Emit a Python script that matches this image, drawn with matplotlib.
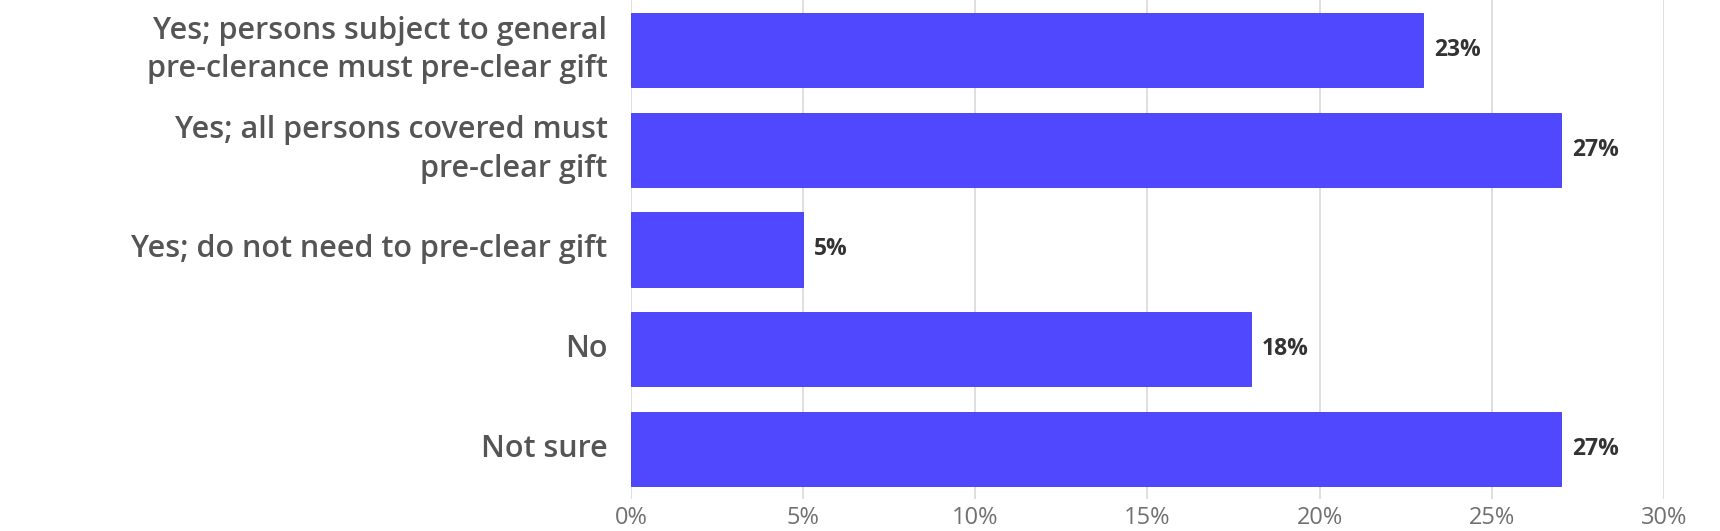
import matplotlib
matplotlib.use("Agg")
import matplotlib.pyplot as plt

categories = [
    "Yes; persons subject to general\npre-clerance must pre-clear gift",
    "Yes; all persons covered must\npre-clear gift",
    "Yes; do not need to pre-clear gift",
    "No",
    "Not sure",
]
values = [23, 27, 5, 18, 27]
xticks = [0, 5, 10, 15, 20, 25, 30]

plt.rcParams['font.family'] = ['Open Sans', 'DejaVu Sans']

fig = plt.figure(figsize=(17.2, 5.31), dpi=100)
ax = fig.add_axes([0.3669, 0.0603, 0.6005, 0.9397])

y = list(range(len(categories)))
bars = ax.barh(y, values, height=0.745, color='#5048FF', edgecolor='#3F37F0', linewidth=0.6, zorder=3)

for yi, v in zip(y, values):
    ax.annotate(f"{v}%", xy=(v, yi), xytext=(8, 0), textcoords='offset points',
                va='center', ha='left', fontsize=16.5, fontweight='bold', color='#333333')

ax.set_xlim(0, 30)
ax.set_ylim(4.5, -0.5)
ax.set_xticks(xticks)
ax.set_xticklabels([f"{t}%" for t in xticks], fontsize=17, color='#707070')
ax.set_yticks(y)
ax.set_yticklabels(categories, fontsize=22, color='#555555', linespacing=1.37,
                   fontweight='semibold', va='center')
ax.tick_params(axis='y', length=0, pad=17)
ax.tick_params(axis='x', length=0, pad=5)
ax.grid(axis='x', color='#D9D9D9', linewidth=1.2, zorder=0)
for s in ax.spines.values():
    s.set_visible(False)

fig.savefig("out.png", dpi=100, facecolor='white')
